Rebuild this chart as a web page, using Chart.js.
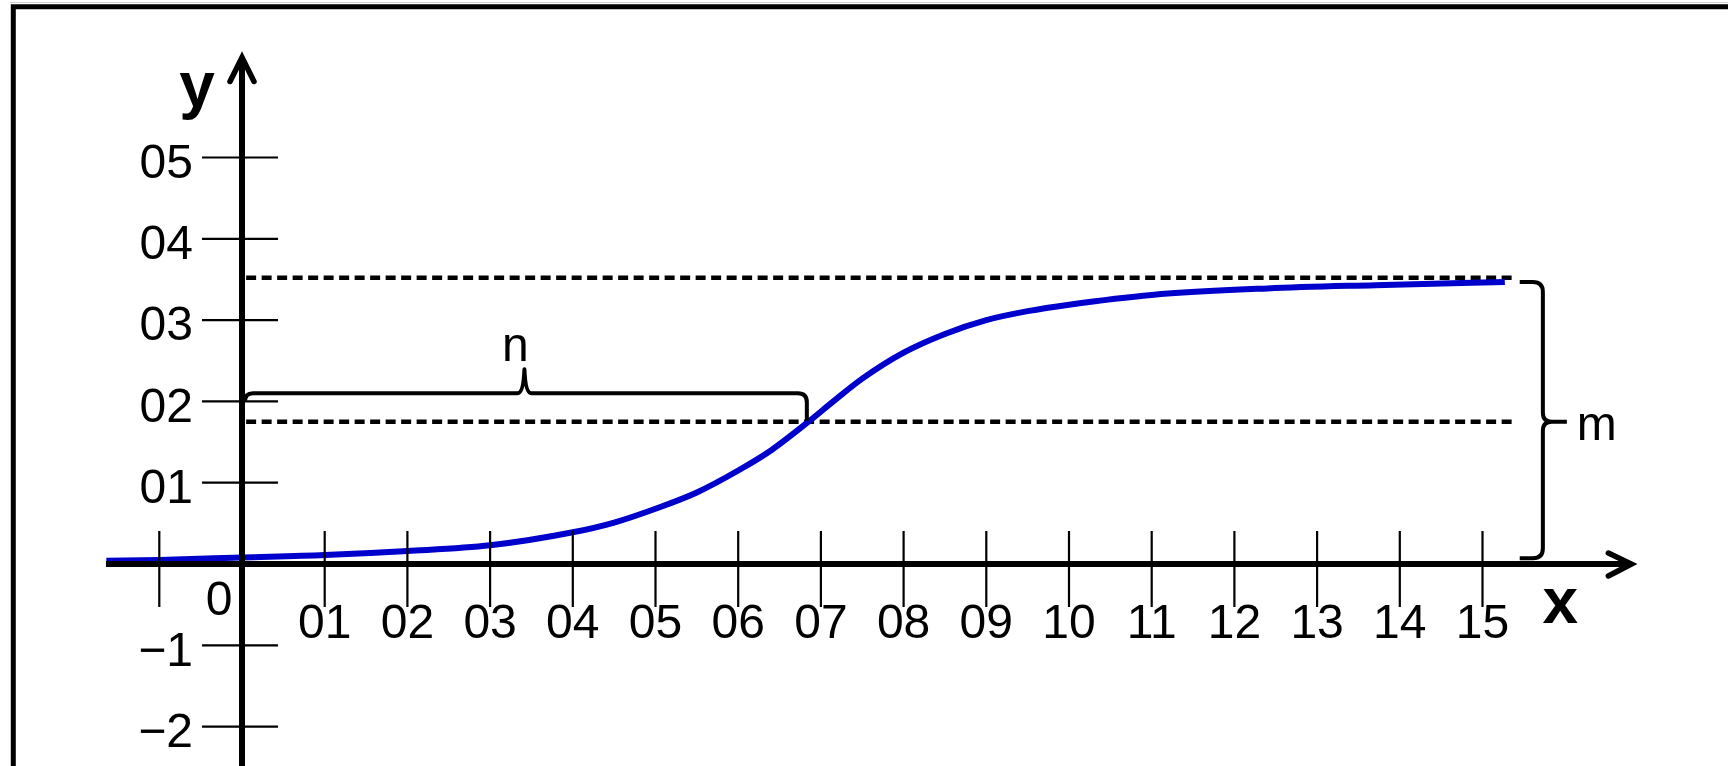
<!DOCTYPE html>
<html>
<head>
<meta charset="utf-8">
<script src="https://cdn.jsdelivr.net/npm/chart.js@4.4.1/dist/chart.umd.min.js"></script>
<style>
  html, body { margin: 0; padding: 0; background: #fff; }
  #wrap { width: 1728px; height: 766px; position: relative; }
</style>
</head>
<body>
<div id="wrap"><canvas id="myChart"></canvas></div>
<script>
// curve
const curveX = [-1.64, -1, 0, 1, 2, 3, 4, 4.5, 5, 5.5, 6, 6.4, 6.85, 7.15, 7.5, 8, 8.5, 9, 9.5, 10, 11, 12.4, 13.7, 15.27];
const curveY = [0.04, 0.05, 0.08, 0.11, 0.16, 0.23, 0.39, 0.51, 0.68, 0.88, 1.15, 1.40, 1.75, 2.0, 2.28, 2.6, 2.83, 3.0, 3.11, 3.19, 3.31, 3.39, 3.43, 3.47];

const xTicks = [-1, 1, 2, 3, 4, 5, 6, 7, 8, 9, 10, 11, 12, 13, 14, 15];
const xTickLabels = ["", "01", "02", "03", "04", "05", "06", "07", "08", "09", "10", "11", "12", "13", "14", "15"];
const yTicks = [5, 4, 3, 2, 1, -1, -2];
const yTickLabels = ["05", "04", "03", "02", "01", "\u22121", "\u22122"];

// reference levels
const topLevel = 3.52, topEnd = 15.36;
const halfLevel = 1.75, halfEnd = 15.4;
const halfX = 6.83;
const nLevel = 2.1;

const FONT = "'Liberation Sans', Arial, sans-serif";

const axesPlugin = {
  id: "axes",
  afterDatasetsDraw(chart) {
    const ctx = chart.ctx;
    const xs = chart.scales.x, ys = chart.scales.y;
    const px = v => xs.getPixelForValue(v);
    const py = v => ys.getPixelForValue(v);
    const x0 = px(0), y0 = py(0);
    ctx.save();
    ctx.fillStyle = "#000";

    // frame
    ctx.strokeStyle = "#cfcfcf";
    ctx.lineWidth = 1;
    ctx.beginPath();
    ctx.moveTo(10, 2.5); ctx.lineTo(1728, 2.5);
    ctx.stroke();
    ctx.strokeStyle = "#000";
    ctx.lineWidth = 5;
    ctx.beginPath();
    ctx.moveTo(13.3, 766); ctx.lineTo(13.3, 6.8); ctx.lineTo(1728, 6.8);
    ctx.stroke();

    // tick marks
    ctx.lineWidth = 2.2;
    ctx.beginPath();
    xTicks.forEach(v => {
      ctx.moveTo(px(v), y0 - 33);
      ctx.lineTo(px(v), y0 + 43);
    });
    yTicks.forEach(v => {
      ctx.moveTo(x0 - 40, py(v));
      ctx.lineTo(x0 + 36, py(v));
    });
    ctx.stroke();

    // axes with open arrow heads
    ctx.lineWidth = 6;
    ctx.lineCap = "butt";
    ctx.beginPath();
    ctx.moveTo(px(-1.645), y0); ctx.lineTo(px(16.8), y0);
    ctx.moveTo(x0, 766); ctx.lineTo(x0, py(6.23));
    ctx.stroke();
    ctx.lineWidth = 5.5;
    ctx.lineCap = "round";
    ctx.lineJoin = "miter";
    const ax = px(16.8), ay = py(6.23);
    ctx.beginPath();
    ctx.moveTo(ax - 23, y0 - 11); ctx.lineTo(ax, y0); ctx.lineTo(ax - 23, y0 + 12);
    ctx.moveTo(x0 - 12, ay + 24); ctx.lineTo(x0, ay); ctx.lineTo(x0 + 12, ay + 24);
    ctx.stroke();

    // brace n
    ctx.lineWidth = 4;
    ctx.lineCap = "butt";
    ctx.lineJoin = "round";
    const bx0 = x0 + 3, bx1 = px(halfX), by = py(nLevel), cx = px(halfX / 2);
    ctx.beginPath();
    ctx.moveTo(bx0, by + 8);
    ctx.quadraticCurveTo(bx0, by, bx0 + 8, by);
    ctx.lineTo(cx - 7, by);
    ctx.quadraticCurveTo(cx - 1, by, cx, by - 24);
    ctx.quadraticCurveTo(cx + 1, by, cx + 7, by);
    ctx.lineTo(bx1 - 9, by);
    ctx.quadraticCurveTo(bx1, by, bx1, by + 9);
    ctx.lineTo(bx1, py(halfLevel) - 1);
    ctx.stroke();

    // brace m
    const mx = px(15.73), mL = px(15.45), mTip = px(16.02);
    const mTop = py(3.47), mBot = py(0.07), mMid = py(halfLevel);
    ctx.beginPath();
    ctx.moveTo(mL, mTop);
    ctx.lineTo(mx - 10, mTop);
    ctx.quadraticCurveTo(mx, mTop, mx, mTop + 10);
    ctx.lineTo(mx, mMid - 9);
    ctx.quadraticCurveTo(mx, mMid, mx + 9, mMid);
    ctx.lineTo(mTip, mMid);
    ctx.moveTo(mx + 9, mMid);
    ctx.quadraticCurveTo(mx, mMid, mx, mMid + 9);
    ctx.lineTo(mx, mBot - 10);
    ctx.quadraticCurveTo(mx, mBot, mx - 10, mBot);
    ctx.lineTo(mL, mBot);
    ctx.stroke();

    // tick labels
    ctx.font = "48px " + FONT;
    ctx.textBaseline = "middle";
    ctx.textAlign = "right";
    yTicks.forEach((v, i) => ctx.fillText(yTickLabels[i], x0 - 49, py(v) + 7));
    ctx.textAlign = "center";
    xTicks.forEach((v, i) => ctx.fillText(xTickLabels[i], px(v), y0 + 61));
    ctx.fillText("0", x0 - 23, y0 + 38);

    // axis names and brace labels
    ctx.textBaseline = "alphabetic";
    ctx.font = "bold 64px " + FONT;
    ctx.fillText("y", x0 - 45, 107);
    ctx.fillText("x", px(15.94), y0 + 59);
    ctx.font = "48px " + FONT;
    ctx.fillText("n", cx - 9, by - 32);
    ctx.textAlign = "left";
    ctx.fillText("m", mTip + 10, mMid + 18);
    ctx.restore();
  }
};

const data = {
  datasets: [
    {
      label: "curve",
      data: curveX.map((x, i) => ({ x: x, y: curveY[i] })),
      borderColor: "#0000cc",
      borderWidth: 6,
      pointRadius: 0,
      cubicInterpolationMode: "monotone",
      fill: false,
    },
    {
      label: "top",
      data: [{ x: 0.05, y: topLevel }, { x: topEnd, y: topLevel }],
      borderColor: "#000",
      borderWidth: 4.5,
      borderDash: [10, 5.5],
      pointRadius: 0,
    },
    {
      label: "half",
      data: [{ x: 0.05, y: halfLevel }, { x: halfEnd, y: halfLevel }],
      borderColor: "#000",
      borderWidth: 4.5,
      borderDash: [10, 5.5],
      pointRadius: 0,
    },
  ],
};

const config = {
  type: "line",
  data,
  options: {
    responsive: true,
    maintainAspectRatio: false,
    animation: false,
    devicePixelRatio: 1,
    layout: {
      padding: { left: 76.6, right: 80.1, top: 35.55, bottom: 6.88 },
    },
    plugins: {
      legend: { display: false },
      tooltip: { enabled: false },
    },
    scales: {
      x: { type: "linear", min: -2, max: 17, display: false },
      y: { type: "linear", min: -2.4, max: 6.5, display: false },
    },
  },
  plugins: [axesPlugin],
};

const ctx = document.getElementById("myChart").getContext("2d");
new Chart(ctx, config);
</script>
</body>
</html>
